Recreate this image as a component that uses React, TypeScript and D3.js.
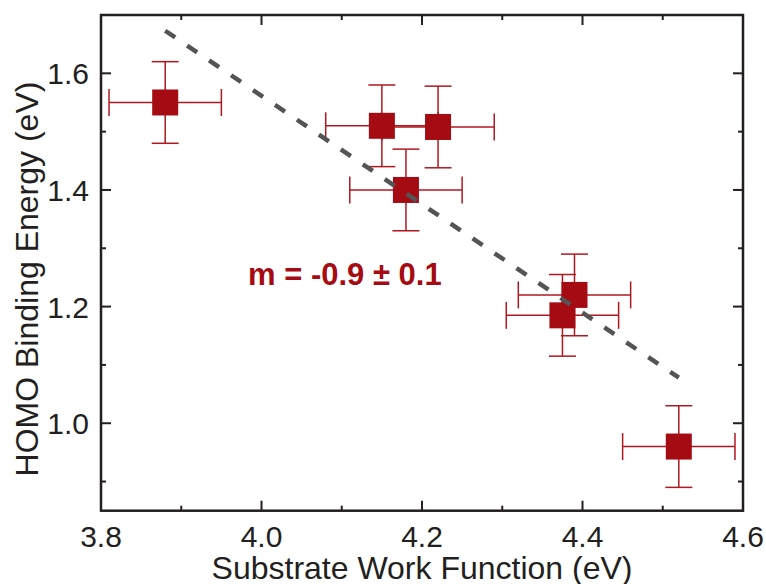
import React from "react";
import * as d3 from "d3";

const workFunction = [3.88, 4.15, 4.22, 4.18, 4.39, 4.375, 4.52];
const bindingEnergy = [1.55, 1.51, 1.508, 1.40, 1.22, 1.185, 0.96];
const xError = [0.07, 0.07, 0.07, 0.07, 0.07, 0.07, 0.07];
const yError = [0.07, 0.07, 0.07, 0.07, 0.07, 0.07, 0.07];
const fitX = [3.88, 4.52];
const fitY = [1.673, 1.078];
const xTicks = [3.8, 4.0, 4.2, 4.4, 4.6];
const xMinorTicks = [3.9, 4.1, 4.3, 4.5];
const yTicks = [1.0, 1.2, 1.4, 1.6];
const yMinorTicks = [0.9, 1.1, 1.3, 1.5, 1.7];
const annotation = "m = -0.9 ± 0.1";

const W = 766;
const H = 584;
const left = 101;
const right = 743;
const top = 15;
const bottom = 510.7;

export default function App() {
  const x = d3.scaleLinear().domain([3.8, 4.6]).range([left, right]);
  const y = d3.scaleLinear().domain([0.85, 1.7]).range([bottom, top]);
  const red = "#a50b13";
  const barRed = "#b01820";
  const axis = "#231f20";
  const font = "'Liberation Sans', Arial, Helvetica, sans-serif";
  const ms = 26;
  const cap = 13.5;
  const line = d3.line<number>().x((d, i) => x(fitX[i])).y((d, i) => y(fitY[i]));

  return (
    <svg width={W} height={H} style={{ position: "absolute", left: 0, top: 0 }}>
      <rect x={0} y={0} width={W} height={H} fill="#fff" />
      {workFunction.map((wf, i) => {
        const cx = x(wf);
        const cy = y(bindingEnergy[i]);
        const x0 = x(wf - xError[i]);
        const x1 = x(wf + xError[i]);
        const y0 = y(bindingEnergy[i] - yError[i]);
        const y1 = y(bindingEnergy[i] + yError[i]);
        return (
          <g key={"e" + i} stroke={barRed} strokeWidth={1.5} fill="none">
            <line x1={x0} x2={x1} y1={cy} y2={cy} />
            <line x1={x0} x2={x0} y1={cy - cap} y2={cy + cap} />
            <line x1={x1} x2={x1} y1={cy - cap} y2={cy + cap} />
            <line x1={cx} x2={cx} y1={y0} y2={y1} />
            <line x1={cx - cap} x2={cx + cap} y1={y0} y2={y0} />
            <line x1={cx - cap} x2={cx + cap} y1={y1} y2={y1} />
          </g>
        );
      })}
      {workFunction.map((wf, i) => (
        <rect
          key={"m" + i}
          x={x(wf) - ms / 2}
          y={y(bindingEnergy[i]) - ms / 2}
          width={ms}
          height={ms}
          fill={red}
        />
      ))}
      <path
        d={line(fitX) || ""}
        stroke="#545454"
        strokeWidth={4.5}
        strokeDasharray="12 14.5"
        fill="none"
      />
      <text
        x={248}
        y={285}
        fontFamily={font}
        fontWeight="bold"
        fontSize={31}
        fill={red}
      >
        {annotation}
      </text>
      <g stroke={axis} strokeWidth={2}>
        {xTicks.map((t) => (
          <g key={"xt" + t}>
            <line x1={x(t)} x2={x(t)} y1={bottom} y2={bottom - 10} />
            <line x1={x(t)} x2={x(t)} y1={top} y2={top + 10} />
          </g>
        ))}
        {xMinorTicks.map((t) => (
          <g key={"xm" + t}>
            <line x1={x(t)} x2={x(t)} y1={bottom} y2={bottom - 5} />
            <line x1={x(t)} x2={x(t)} y1={top} y2={top + 5} />
          </g>
        ))}
        {yTicks.map((t) => (
          <g key={"yt" + t}>
            <line x1={left} x2={left + 10} y1={y(t)} y2={y(t)} />
            <line x1={right} x2={right - 10} y1={y(t)} y2={y(t)} />
          </g>
        ))}
        {yMinorTicks.map((t) => (
          <g key={"ym" + t}>
            <line x1={left} x2={left + 5} y1={y(t)} y2={y(t)} />
            <line x1={right} x2={right - 5} y1={y(t)} y2={y(t)} />
          </g>
        ))}
      </g>
      <rect
        x={left}
        y={top}
        width={right - left}
        height={bottom - top}
        fill="none"
        stroke={axis}
        strokeWidth={2.5}
      />
      <g fontFamily={font} fontSize={30} fill="#231f20">
        {xTicks.map((t) => (
          <text key={"xl" + t} x={x(t)} y={546.5} textAnchor="middle">
            {t.toFixed(1)}
          </text>
        ))}
        {yTicks.map((t) => (
          <text key={"yl" + t} x={89} y={y(t) + 11} textAnchor="end">
            {t.toFixed(1)}
          </text>
        ))}
      </g>
      <text
        x={422}
        y={578.5}
        textAnchor="middle"
        fontFamily={font}
        fontSize={32}
        fill="#231f20"
      >
        Substrate Work Function (eV)
      </text>
      <text
        transform={`translate(37.5, 279) rotate(-90)`}
        textAnchor="middle"
        fontFamily={font}
        fontSize={32}
        fill="#231f20"
      >
        HOMO Binding Energy (eV)
      </text>
    </svg>
  );
}
